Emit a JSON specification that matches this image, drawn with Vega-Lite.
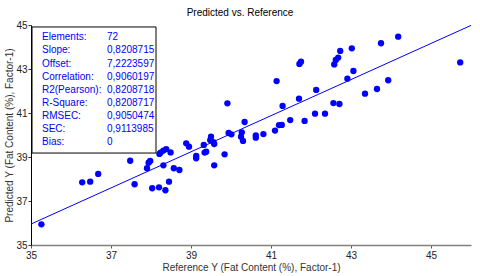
{
  "$schema": "https://vega.github.io/schema/vega-lite/v6.json",
  "width": 440,
  "height": 220,
  "autosize": {"type": "none"},
  "padding": {"left": 31, "top": 25, "right": 9, "bottom": 31},
  "background": "white",
  "config": {
    "view": {"stroke": null},
    "font": "Liberation Sans",
    "axis": {
      "labelFont": "Liberation Sans",
      "titleFont": "Liberation Sans",
      "labelFontSize": 10,
      "titleFontSize": 10,
      "titleFontWeight": "normal",
      "labelColor": "#222222",
      "titleColor": "#333333",
      "grid": false,
      "labelOverlap": false
    }
  },
  "title": {
    "text": "Predicted vs. Reference",
    "fontSize": 10,
    "fontWeight": "normal",
    "font": "Liberation Sans",
    "color": "#000000",
    "anchor": "middle",
    "dx": -11,
    "offset": 2
  },
  "datasets": {
    "points": [
      {"ref": 44.18, "pred": 44.47}, {"ref": 43.75, "pred": 44.17}, {"ref": 43.02, "pred": 43.94},
      {"ref": 42.73, "pred": 43.82}, {"ref": 42.68, "pred": 43.52}, {"ref": 42.62, "pred": 43.41},
      {"ref": 42.58, "pred": 43.21}, {"ref": 41.75, "pred": 43.33}, {"ref": 41.71, "pred": 43.23},
      {"ref": 45.73, "pred": 43.30}, {"ref": 43.06, "pred": 42.91}, {"ref": 42.91, "pred": 42.56},
      {"ref": 43.93, "pred": 42.49}, {"ref": 41.14, "pred": 42.45}, {"ref": 42.13, "pred": 42.05},
      {"ref": 43.65, "pred": 42.09}, {"ref": 43.35, "pred": 41.88}, {"ref": 41.70, "pred": 41.65},
      {"ref": 39.91, "pred": 41.44}, {"ref": 42.56, "pred": 41.45}, {"ref": 42.71, "pred": 41.41},
      {"ref": 41.29, "pred": 41.32}, {"ref": 42.10, "pred": 40.97}, {"ref": 42.35, "pred": 40.97},
      {"ref": 41.48, "pred": 40.68}, {"ref": 41.84, "pred": 40.64}, {"ref": 41.20, "pred": 40.45},
      {"ref": 41.27, "pred": 40.46}, {"ref": 40.34, "pred": 40.59}, {"ref": 41.10, "pred": 40.20},
      {"ref": 40.27, "pred": 40.12}, {"ref": 39.94, "pred": 40.09}, {"ref": 40.01, "pred": 40.03},
      {"ref": 40.62, "pred": 39.98}, {"ref": 40.62, "pred": 39.88}, {"ref": 40.81, "pred": 40.04},
      {"ref": 39.50, "pred": 39.92}, {"ref": 40.25, "pred": 39.92}, {"ref": 40.30, "pred": 39.73},
      {"ref": 39.48, "pred": 39.77}, {"ref": 39.56, "pred": 39.67}, {"ref": 39.58, "pred": 39.59},
      {"ref": 39.32, "pred": 39.55}, {"ref": 38.88, "pred": 39.62}, {"ref": 38.95, "pred": 39.47},
      {"ref": 39.34, "pred": 39.20}, {"ref": 39.38, "pred": 39.24}, {"ref": 39.13, "pred": 39.05},
      {"ref": 39.13, "pred": 38.94}, {"ref": 39.84, "pred": 39.12}, {"ref": 39.58, "pred": 38.62},
      {"ref": 38.38, "pred": 39.36}, {"ref": 38.31, "pred": 39.29}, {"ref": 38.24, "pred": 39.20},
      {"ref": 38.21, "pred": 39.14}, {"ref": 38.49, "pred": 39.21}, {"ref": 37.98, "pred": 38.82},
      {"ref": 37.94, "pred": 38.74}, {"ref": 37.90, "pred": 38.49}, {"ref": 37.48, "pred": 38.83},
      {"ref": 38.31, "pred": 38.62}, {"ref": 38.57, "pred": 38.49}, {"ref": 38.71, "pred": 38.41},
      {"ref": 36.68, "pred": 38.23}, {"ref": 36.48, "pred": 37.88}, {"ref": 36.28, "pred": 37.85},
      {"ref": 37.59, "pred": 37.76}, {"ref": 38.45, "pred": 37.88}, {"ref": 38.03, "pred": 37.58},
      {"ref": 38.20, "pred": 37.62}, {"ref": 38.36, "pred": 37.49}, {"ref": 35.26, "pred": 35.94}
    ],
    "fit": [
      {"ref": 35, "pred": 35.9529},
      {"ref": 46, "pred": 44.9825}
    ],
    "stats": [
      {"i": 0, "stat": "Elements:", "value": "72"},
      {"i": 1, "stat": "Slope:", "value": "0,8208715"},
      {"i": 2, "stat": "Offset:", "value": "7,2223597"},
      {"i": 3, "stat": "Correlation:", "value": "0,9060197"},
      {"i": 4, "stat": "R2(Pearson):", "value": "0,8208718"},
      {"i": 5, "stat": "R-Square:", "value": "0,8208717"},
      {"i": 6, "stat": "RMSEC:", "value": "0,9050474"},
      {"i": 7, "stat": "SEC:", "value": "0,9113985"},
      {"i": 8, "stat": "Bias:", "value": "0"}
    ]
  },
  "layer": [
    {
      "data": {"name": "points"},
      "mark": {"type": "circle", "size": 40, "color": "#0000FF", "opacity": 1},
      "encoding": {
        "x": {
          "field": "ref", "type": "quantitative",
          "scale": {"domain": [35, 46], "nice": false, "zero": false},
          "axis": {
            "title": "Reference Y (Fat Content (%), Factor-1)",
            "values": [35, 36, 37, 38, 39, 40, 41, 42, 43, 44, 45, 46],
            "format": "d",
            "labelOverlap": false,
            "tickSize": 3,
            "domainColor": "#808080",
            "domainWidth": 1.5,
            "tickColor": "#555555",
            "labelPadding": 2,
            "titlePadding": 2,
            "labelFlush": false
          }
        },
        "y": {
          "field": "pred", "type": "quantitative",
          "scale": {"domain": [35, 45], "nice": false, "zero": false},
          "axis": {
            "title": "Predicted Y (Fat Content (%), Factor-1)",
            "values": [35, 36, 37, 38, 39, 40, 41, 42, 43, 44, 45],
            "format": "d",
            "labelOverlap": false,
            "tickSize": 3,
            "domainColor": "#000000",
            "domainWidth": 1,
            "tickColor": "#333333",
            "labelPadding": 1,
            "titlePadding": 1,
            "labelFlush": false
          }
        }
      }
    },
    {
      "data": {"values": [{}]},
      "mark": {"type": "rect", "fill": "white", "stroke": "#000000", "strokeWidth": 1},
      "encoding": {
        "x": {"datum": 35.025, "type": "quantitative"},
        "x2": {"datum": 38.125},
        "y": {"datum": 44.91, "type": "quantitative"},
        "y2": {"datum": 39.18}
      }
    },
    {
      "data": {"name": "fit"},
      "mark": {"type": "line", "color": "#0000FF", "strokeWidth": 1},
      "encoding": {
        "x": {"field": "ref", "type": "quantitative"},
        "y": {"field": "pred", "type": "quantitative"}
      }
    },
    {
      "data": {"name": "stats"},
      "transform": [{"calculate": "44.441 - 0.5955 * datum.i", "as": "ypos"}],
      "mark": {"type": "text", "align": "left", "baseline": "middle", "fontSize": 10, "font": "Liberation Sans", "color": "#0000FF"},
      "encoding": {
        "x": {"datum": 35.275, "type": "quantitative"},
        "y": {"field": "ypos", "type": "quantitative"},
        "text": {"field": "stat"}
      }
    },
    {
      "data": {"name": "stats"},
      "transform": [{"calculate": "44.441 - 0.5955 * datum.i", "as": "ypos"}],
      "mark": {"type": "text", "align": "left", "baseline": "middle", "fontSize": 10, "font": "Liberation Sans", "color": "#0000FF"},
      "encoding": {
        "x": {"datum": 36.9, "type": "quantitative"},
        "y": {"field": "ypos", "type": "quantitative"},
        "text": {"field": "value"}
      }
    }
  ]
}
